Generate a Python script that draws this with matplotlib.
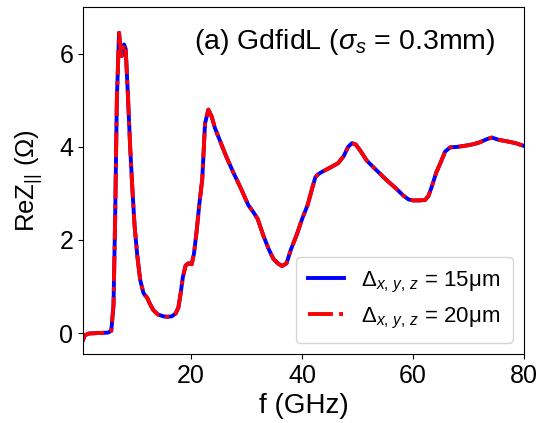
import numpy as np
import matplotlib.pyplot as plt

plt.rcParams['font.family'] = ['Liberation Sans', 'DejaVu Sans']
plt.rcParams['mathtext.fontset'] = 'custom'
plt.rcParams['mathtext.rm'] = 'Liberation Sans'
plt.rcParams['mathtext.it'] = 'Liberation Sans:italic'

# частота, ГГц
f = [0.5, 0.8, 1.5, 3, 5, 5.6, 6.0, 6.3, 6.6, 7.0, 7.3, 7.5, 7.9, 8.2, 8.6,
     9.0, 9.4, 9.8, 10.3, 10.8, 11.4, 12.1, 12.6, 13.2, 14.0, 15.0, 15.7,
     16.5, 17.2, 17.7, 18.1, 18.5, 19.0, 19.5, 20.1, 20.5, 21.0, 21.5, 22.0,
     22.5, 23.1, 23.7, 24.3, 25.2, 26.3, 27.6, 29.0, 30.3, 31.2, 32.0, 33.0,
     34.0, 34.8, 35.6, 36.4, 37.2, 38.0, 39.0, 40.0, 41.0, 41.8, 42.4, 43.0,
     43.7, 45.0, 46.5, 47.5, 48.3, 49.0, 49.7, 50.6, 51.7, 53.4, 55.3, 57.0,
     58.2, 59.2, 60.0, 61.2, 62.2, 62.8, 63.4, 64.2, 64.9, 65.8, 66.7, 68.0,
     69.7, 71.0, 72.1, 73.2, 74.2, 75.5, 76.9, 78.5, 80.0]

# ReZ, сетка 15 мкм
rez_15 = [-0.15, -0.05, -0.01, 0, 0.01, 0.05, 0.6, 2.5, 5.0, 6.45, 6.05, 5.95,
          6.2, 6.1, 5.1, 4.0, 3.1, 2.3, 1.65, 1.15, 0.86, 0.75, 0.62, 0.49,
          0.4, 0.36, 0.35, 0.36, 0.42, 0.55, 0.85, 1.2, 1.45, 1.5, 1.48, 1.7,
          2.2, 2.8, 3.3, 4.5, 4.8, 4.65, 4.4, 4.13, 3.8, 3.45, 3.1, 2.75, 2.6,
          2.45, 2.1, 1.8, 1.6, 1.5, 1.44, 1.5, 1.8, 2.1, 2.45, 2.75, 3.1, 3.35,
          3.42, 3.47, 3.55, 3.65, 3.8, 4.0, 4.08, 4.05, 3.9, 3.7, 3.5, 3.28,
          3.1, 2.96, 2.87, 2.85, 2.85, 2.86, 2.95, 3.15, 3.45, 3.64, 3.9, 3.99,
          4.0, 4.03, 4.06, 4.1, 4.16, 4.2, 4.15, 4.12, 4.08, 4.02]

# ReZ, сетка 20 мкм (практически совпадает)
rez_20 = list(rez_15)

fig = plt.figure(figsize=(5.39, 4.23), dpi=100)
ax = fig.add_axes([0.154, 0.163, 0.818, 0.82])

ax.plot(f, rez_15, color='blue', lw=2.8, label=r'$\Delta_{x,\,y,\,z}$ = 15μm')
ax.plot(f, rez_20, color='red', lw=2.8, ls='-.', label=r'$\Delta_{x,\,y,\,z}$ = 20μm')

ax.set_xlim(0.5, 80)
ax.set_ylim(-0.45, 7)
ax.set_xticks([20, 40, 60, 80])
ax.set_yticks([0, 2, 4, 6])
ax.tick_params(labelsize=18)
ax.set_xlabel('f (GHz)', fontsize=20)
ax.set_ylabel(r'ReZ$_{||}$ (Ω)', fontsize=18.5, labelpad=10)

ax.text(0.594, 0.9, r'(a) GdfidL ($\sigma_s$ = 0.3mm)', transform=ax.transAxes,
        ha='center', va='center', fontsize=20.5)

ax.legend(loc='lower right', fontsize=16, handlelength=1.6, borderpad=0.55)

plt.savefig('out.png', dpi=100)
